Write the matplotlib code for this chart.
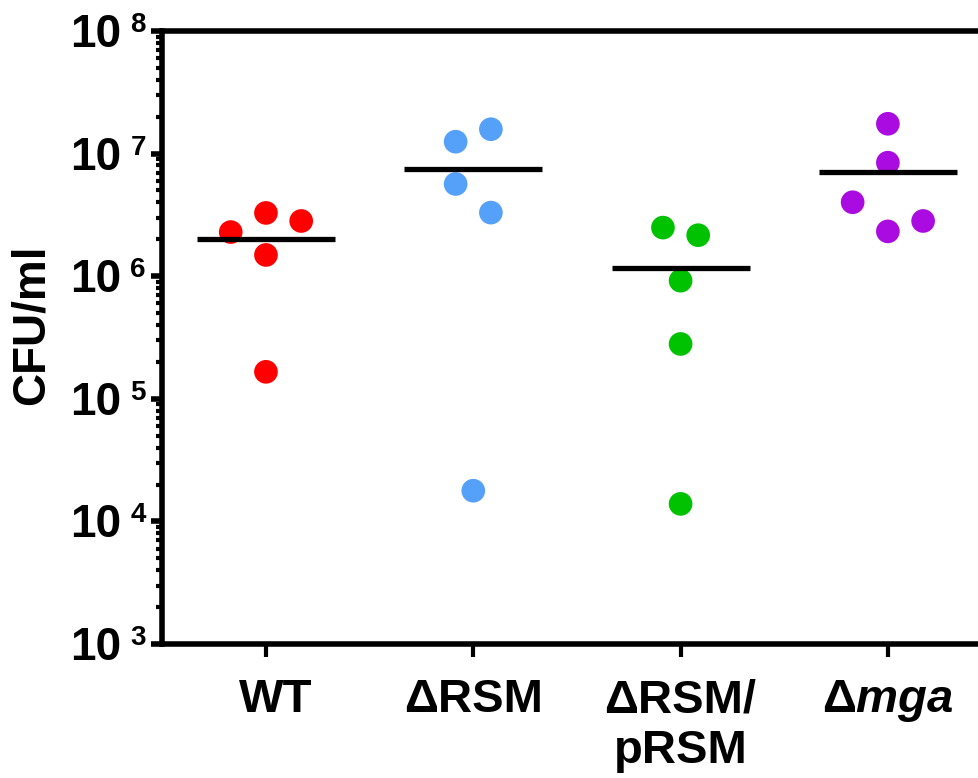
import matplotlib.pyplot as plt
import matplotlib.transforms as mtransforms
import numpy as np

plt.rcParams['font.family'] = ['Liberation Sans', 'DejaVu Sans']
plt.rcParams['font.weight'] = 'bold'
plt.rcParams['mathtext.fontset'] = 'custom'
plt.rcParams['mathtext.rm'] = 'Liberation Sans:bold'
plt.rcParams['mathtext.bf'] = 'Liberation Sans:bold'
plt.rcParams['mathtext.bfit'] = 'Liberation Sans:bold:italic'

groups = ['WT', 'ΔRSM', 'ΔRSM/\npRSM', r'$\mathbf{Δ}\mathbfit{mga}$']
colors = ['#ff0000', '#55a0f8', '#00c200', '#aa0be0']
decades = [3, 4, 5, 6, 7, 8]

# CFU/ml per strain
wt = [3.28e6, 2.82e6, 2.29e6, 1.49e6, 1.66e5]
rsm = [1.25e7, 1.58e7, 5.65e6, 3.30e6, 1.78e4]
rsm_comp = [2.49e6, 2.16e6, 9.19e5, 2.80e5, 1.39e4]
mga = [1.75e7, 8.43e6, 4.01e6, 2.32e6, 2.82e6]

# horizontal scatter of the dots within each column
wt_dx = [0, 0.17, -0.17, 0, 0]
rsm_dx = [-0.085, 0.085, -0.085, 0.085, 0]
rsm_comp_dx = [-0.085, 0.085, 0, 0, 0]
mga_dx = [0, 0, -0.17, 0, 0.17]

values = [wt, rsm, rsm_comp, mga]
offsets = [wt_dx, rsm_dx, rsm_comp_dx, mga_dx]

fig = plt.figure(figsize=(9.79, 7.78), dpi=100)
ax = fig.add_axes([0.1658, 0.1722, 0.847, 0.788])

for i, (vals, dx, c) in enumerate(zip(values, offsets, colors)):
    ax.scatter(i + np.array(dx), vals, s=290, color=c, edgecolors='none', zorder=2)
    m = np.mean(vals)
    ax.plot([i - 0.333, i + 0.333], [m, m], color='black', lw=3.8,
            solid_capstyle='butt', zorder=3)

ax.set_yscale('log')
ax.set_ylim(1e3, 1e8)
ax.set_xlim(-0.5, 3.5)
ax.set_yticks([10.0 ** e for e in decades])
ax.set_yticklabels([])
ax.set_xticks(range(4))
ax.set_xticklabels(groups)

# "10" plus a small raised exponent, like the original tick labels
base_tr = mtransforms.offset_copy(ax.get_yaxis_transform(), fig=fig, x=-41, y=-16, units='dots')
exp_tr = mtransforms.offset_copy(ax.get_yaxis_transform(), fig=fig, x=-32, y=-1, units='dots')
for e in decades:
    ax.text(0, 10.0 ** e, '10', transform=base_tr, ha='right', va='baseline',
            fontsize=33, fontweight='bold')
    ax.text(0, 10.0 ** e, str(e), transform=exp_tr, ha='left', va='baseline',
            fontsize=20, fontweight='bold')

for s in ['left', 'top', 'bottom']:
    ax.spines[s].set_linewidth(4)
ax.spines['right'].set_visible(False)

ax.tick_params(axis='y', which='major', length=8, width=4)
ax.tick_params(axis='y', which='minor', length=4.5, width=3)
ax.tick_params(axis='x', which='major', length=9, width=3, pad=15.5, labelsize=34)

# WT label sits a little right of its tick in the original
wt_label = ax.xaxis.get_major_ticks()[0].label1
wt_label.set_transform(wt_label.get_transform() +
                       mtransforms.ScaledTranslation(0.1, 0, fig.dpi_scale_trans))

ax.set_ylabel('CFU/ml', fontsize=33, fontweight='bold')
ax.yaxis.set_label_coords(-0.131, 0.52)

fig.savefig('out.png', dpi=100)
